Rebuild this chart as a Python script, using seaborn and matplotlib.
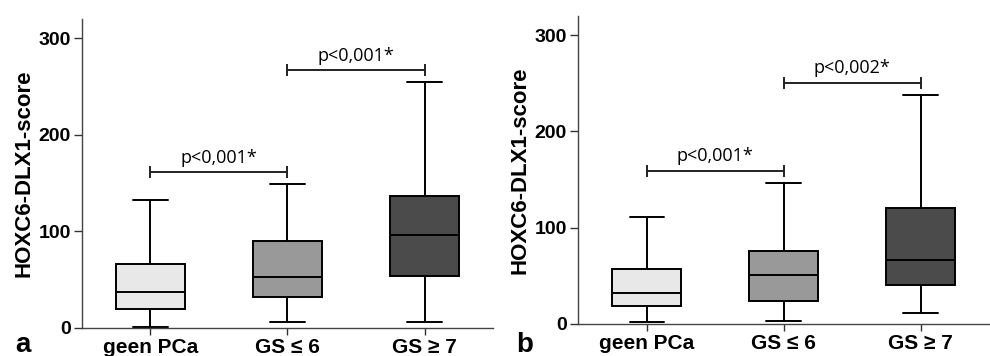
import pandas as pd
import matplotlib.pyplot as plt
import seaborn as sns

# Categories and five-number summaries (min, Q1, median, Q3, max) per panel
groups = ["geen PCa", "GS \u2264 6", "GS \u2265 7"]

a_geen = [1, 19.6, 36.9, 65.9, 132.7]
a_gs6 = [6.5, 31.7, 52.4, 89.6, 149.6]
a_gs7 = [6.5, 54.1, 95.9, 136.8, 254.7]

b_geen = [2.4, 18.7, 31.9, 56.8, 111.4]
b_gs6 = [3.4, 24.2, 51.2, 76.1, 146.7]
b_gs7 = [11.4, 40.5, 66.8, 120.8, 238.1]

# significance brackets: (from group, to group), height, label
a_pairs = [(0, 1), (1, 2)]
a_bracket_y = [161.3, 266.8]
a_pvals = ["p<0,001*", "p<0,001*"]

b_pairs = [(0, 1), (1, 2)]
b_bracket_y = [158.9, 250.6]
b_pvals = ["p<0,001*", "p<0,002*"]

box_colors = ["#e8e8e8", "#999999", "#4b4b4b"]

sns.set_style("ticks")
plt.rcParams["font.family"] = ["Liberation Sans", "DejaVu Sans"]
plt.rcParams["text.color"] = "black"
plt.rcParams["xtick.labelcolor"] = "black"
plt.rcParams["ytick.labelcolor"] = "black"
plt.rcParams["axes.labelcolor"] = "black"


def make_df(values):
    rows = []
    for g, vals in zip(groups, values):
        for v in vals:
            rows.append({"group": g, "score": v})
    return pd.DataFrame(rows)


def draw_panel(ax, df, pairs, bracket_y, pvals):
    sns.boxplot(data=df, x="group", y="score", hue="group", order=groups,
                hue_order=groups, palette=box_colors, legend=False,
                whis=(0, 100), width=0.5, linecolor="black", linewidth=1.4,
                showfliers=False, ax=ax)
    for (i, j), y, txt in zip(pairs, bracket_y, pvals):
        ax.plot([i, j], [y, y], color="#222222", lw=1.4, marker="|",
                markersize=8, markeredgewidth=1.4)
        ax.text((i + j) / 2, y + 10, txt, ha="center", va="baseline",
                fontsize=13, family=["Open Sans", "DejaVu Sans"])
    ax.set_xlim(-0.5, 2.5)
    ax.set_ylim(0, 320)
    ax.set_yticks([0, 100, 200, 300])
    ax.set_xlabel("")
    ax.set_ylabel("HOXC6-DLX1-score", fontsize=16, fontweight="bold", labelpad=3)
    ax.tick_params(axis="y", labelsize=14, length=6, pad=2, width=1, color="#333333")
    ax.tick_params(axis="x", labelsize=15, length=5, pad=2, width=1, color="#333333")
    for lab in ax.get_xticklabels() + ax.get_yticklabels():
        lab.set_fontweight("bold")
    sns.despine(ax=ax)
    for side in ["left", "bottom"]:
        ax.spines[side].set_color("#444444")
        ax.spines[side].set_linewidth(1.0)


fig = plt.figure(figsize=(9.9, 3.56), dpi=100)
ax_a = fig.add_axes([0.0828, 0.0787, 0.4152, 0.868])
ax_b = fig.add_axes([0.584, 0.0899, 0.415, 0.8657])

draw_panel(ax_a, make_df([a_geen, a_gs6, a_gs7]), a_pairs, a_bracket_y, a_pvals)
draw_panel(ax_b, make_df([b_geen, b_gs6, b_gs7]), b_pairs, b_bracket_y, b_pvals)

# panel letters
fig.text(0.015, 0.012, "a", fontsize=20, fontweight="bold", va="baseline", ha="left")
fig.text(0.521, 0.012, "b", fontsize=20, fontweight="bold", va="baseline", ha="left")

fig.savefig("out.png", dpi=100)
